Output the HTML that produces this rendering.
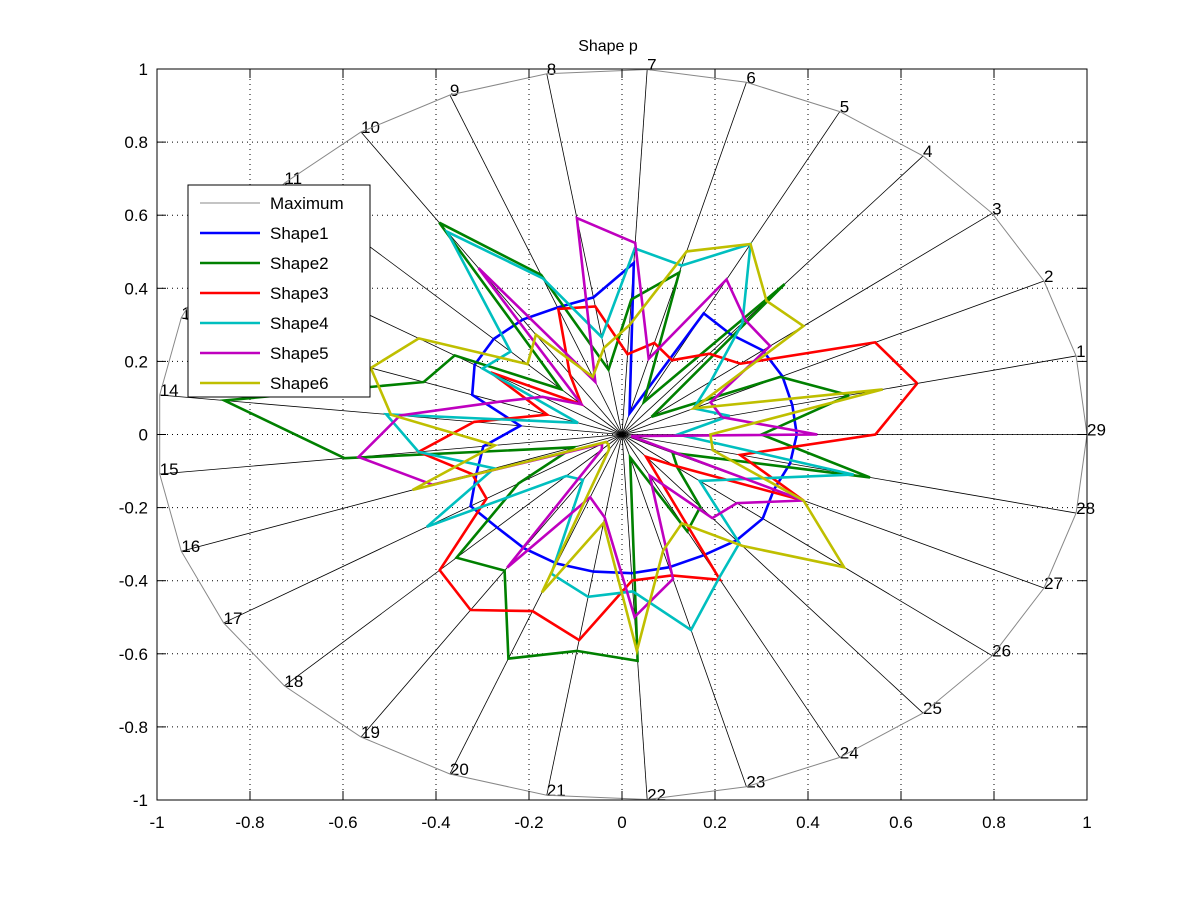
<!DOCTYPE html>
<html><head><meta charset="utf-8"><style>
html,body{margin:0;padding:0;background:#fff;}
svg{display:block;font-family:"Liberation Sans",Arial,sans-serif;}
</style></head><body>
<svg id="s" width="1201" height="901" viewBox="0 0 1201 901" xmlns="http://www.w3.org/2000/svg">
<rect width="1201" height="901" fill="#fff"/>
<g id="grid"></g>
<g id="spokes"></g>
<g id="series" fill="none" stroke-width="2.6" stroke-linejoin="miter"></g>
<rect x="157" y="69" width="930" height="731" fill="none" stroke="#000" stroke-width="1"/>
<g id="ticks" font-size="17" fill="#000"></g>
<text x="608" y="51" font-size="16" text-anchor="middle">Shape p</text>
<g id="legend">
<rect x="188" y="185" width="182" height="212" fill="#fff" stroke="#000" stroke-width="1"/>
<g font-size="17" fill="#000">
<line x1="200" y1="203" x2="260" y2="203" stroke="#888" stroke-width="1"/><text x="270" y="209">Maximum</text>
<line x1="200" y1="233" x2="260" y2="233" stroke="#0000ff" stroke-width="2.6"/><text x="270" y="239">Shape1</text>
<line x1="200" y1="263" x2="260" y2="263" stroke="#008000" stroke-width="2.6"/><text x="270" y="269">Shape2</text>
<line x1="200" y1="293" x2="260" y2="293" stroke="#ff0000" stroke-width="2.6"/><text x="270" y="299">Shape3</text>
<line x1="200" y1="323" x2="260" y2="323" stroke="#00bfbf" stroke-width="2.6"/><text x="270" y="329">Shape4</text>
<line x1="200" y1="353" x2="260" y2="353" stroke="#bf00bf" stroke-width="2.6"/><text x="270" y="359">Shape5</text>
<line x1="200" y1="383" x2="260" y2="383" stroke="#bfbf00" stroke-width="2.6"/><text x="270" y="389">Shape6</text>
</g></g>
</svg>
<script>
(function(){
var NS="http://www.w3.org/2000/svg";
var cx=622,cy=434.5,sx=465,sy=365.5,N=29;
function P(k,r){var a=k*2*Math.PI/N;return [cx+sx*r*Math.cos(a),cy-sy*r*Math.sin(a)];}
function el(t,at,par,txt){var e=document.createElementNS(NS,t);for(var k in at)e.setAttribute(k,at[k]);if(txt!==undefined)e.textContent=txt;par.appendChild(e);return e;}
var grid=document.getElementById('grid'),spk=document.getElementById('spokes'),ser=document.getElementById('series'),tk=document.getElementById('ticks');
var vals=[-1,-0.8,-0.6,-0.4,-0.2,0,0.2,0.4,0.6,0.8,1];
vals.forEach(function(v){
 var x=cx+sx*v,y=cy-sy*v;
 if(v>-1&&v<1){
  el('line',{x1:x,y1:69,x2:x,y2:800,stroke:'#000','stroke-width':1,'stroke-dasharray':'1,4'},grid);
  el('line',{x1:157,y1:y,x2:1087,y2:y,stroke:'#000','stroke-width':1,'stroke-dasharray':'1,4'},grid);
 }
 var lab=(v===0?'0':(''+v).replace('0.','0.').replace('-0.','-0.'));
 el('text',{x:x,y:828,'text-anchor':'middle'},tk,lab);
 el('text',{x:148,y:y+6,'text-anchor':'end'},tk,lab);
 el('line',{x1:x,y1:800,x2:x,y2:791,stroke:'#000'},tk);
 el('line',{x1:x,y1:69,x2:x,y2:78,stroke:'#000'},tk);
 el('line',{x1:157,y1:y,x2:166,y2:y,stroke:'#000'},tk);
 el('line',{x1:1087,y1:y,x2:1078,y2:y,stroke:'#000'},tk);
});
var mx=[];
for(var k=1;k<=N;k++){var p=P(k,1);mx.push(p[0].toFixed(1)+','+p[1].toFixed(1));
 el('line',{x1:cx,y1:cy,x2:p[0],y2:p[1],stroke:'#000','stroke-width':0.8},spk);
 el('text',{x:p[0],y:p[1]+1,'font-size':17},spk,''+k);
}
mx.push(mx[0]);
el('polyline',{points:mx.join(' '),fill:'none',stroke:'#888','stroke-width':1},spk);
var S=[
['#0000ff',[.375,.38,.38,.36,.375,.06,.47,.38,.374,.38,.38,.37,.34,.22,.3,.33,.38,.37,.376,.38,.38,.38,.377,.374,.38,.38,.36,.37,.376]],
['#008000',[.5,.375,.08,.54,.1,.46,.37,.18,.47,.70,.18,.42,.45,.86,.6,.11,.26,.49,.45,.66,.6,.62,.065,.3,.26,.15,.12,.546,.3]],
['#ff0000',[.65,.6,.32,.29,.23,.26,.22,.355,.37,.2,.12,.33,.17,.32,.44,.34,.34,.54,.58,.52,.57,.4,.4,.45,.08,.14,.43,.26,.545]],
['#00bfbf',[.237,.17,.24,.40,.59,.48,.51,.27,.46,.67,.33,.35,.10,.51,.44,.29,.49,.165,.15,.41,.45,.43,.555,.445,.39,.21,.29,.51,.12]],
['#bf00bf',[.22,.21,.40,.41,.48,.215,.525,.6,.155,.55,.12,.2,.28,.48,.57,.43,.05,.06,.44,.185,.23,.5,.41,.127,.3,.31,.43,.02,.42]],
['#bfbf00',[.574,.17,.49,.48,.59,.52,.3,.24,.17,.33,.28,.51,.57,.50,.275,.475,.04,.04,.05,.465,.245,.593,.33,.275,.40,.60,.43,.2,.19]]
];
S.forEach(function(s){var pts=[];for(var k=1;k<=N;k++){var p=P(k,s[1][k-1]);pts.push(p[0].toFixed(1)+','+p[1].toFixed(1));}
 pts.push(pts[0]);el('polyline',{points:pts.join(' '),stroke:s[0]},ser);});
})();
</script>
</body></html>
